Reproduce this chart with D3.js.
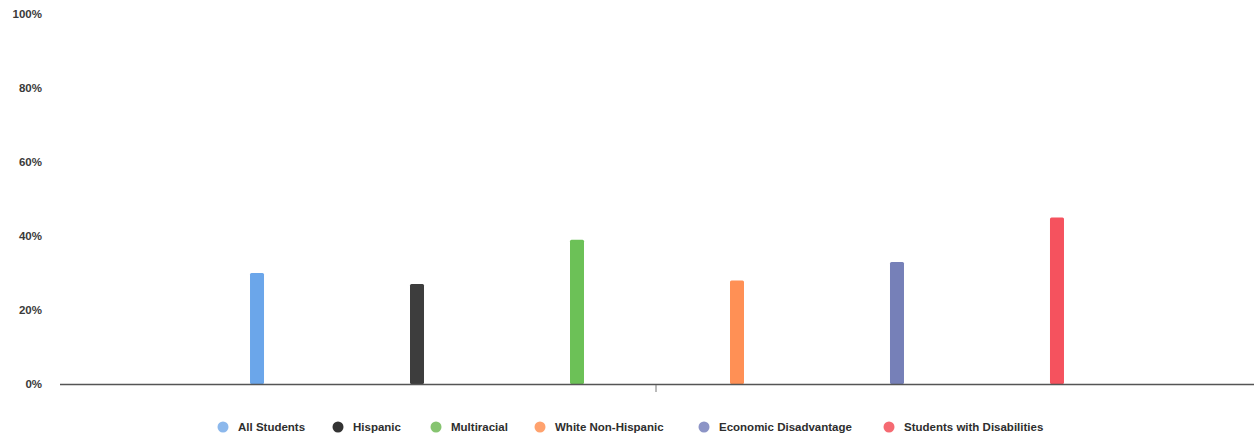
<!DOCTYPE html>
<html><head><meta charset="utf-8">
<script src="https://cdn.jsdelivr.net/npm/d3@7"></script>
<style>body{margin:0;background:#fff}svg{display:block}</style>
</head><body>
<svg id="c" width="1254" height="439"></svg>
<script>
const categories = [""];
const series = ["All Students","Hispanic","Multiracial","White  Non-Hispanic","Economic Disadvantage","Students with Disabilities"];
const values = [30, 27, 39, 28, 33, 45];
const colors = ["#6ba6ea","#3d3d3d","#6cc157","#ff9055","#7680b8","#f5525e"];
const legendColors = ["#8cb8ec","#333333","#86c470","#ffa26e","#8c94c6","#f56a72"];
const yTicks = [0,20,40,60,80,100];

const svg = d3.select("#c");
const plotLeft = 60, plotRight = 1254, plotTop = 14, plotBottom = 384;
const y = d3.scaleLinear().domain([0,100]).range([plotBottom, plotTop]);
const x0 = d3.scaleBand().domain(categories).range([plotLeft, plotRight]).paddingInner(0).paddingOuter(0.0398);
const x1 = d3.scaleBand().domain(series).range([0, x0.bandwidth()]).paddingInner(0.9125).paddingOuter(0.9125);

// y labels
svg.append("g").selectAll("text").data(yTicks).join("text")
  .attr("x", 42).attr("y", d => y(d)).attr("dy", "0.35em")
  .attr("text-anchor", "end")
  .attr("font-family", "Liberation Sans, Arial, sans-serif")
  .attr("font-size", 11.5).attr("font-weight", "bold").attr("fill", "#3a3a3a")
  .text(d => d + "%");

// bars
const g = svg.append("g").attr("transform", `translate(${x0(categories[0])},0)`);
g.selectAll("rect").data(series).join("rect")
  .attr("x", d => x1(d)).attr("width", x1.bandwidth())
  .attr("y", (d,i) => y(values[i])).attr("height", (d,i) => y(0) - y(values[i]))
  .attr("rx", 1.5)
  .attr("fill", (d,i) => colors[i]);

// baseline
svg.append("line").attr("x1", plotLeft).attr("x2", plotRight).attr("y1", y(0)+0.5).attr("y2", y(0)+0.5)
  .attr("stroke", "#555").attr("stroke-width", 1.3);
// category tick
const cx = x0(categories[0]) + x0.bandwidth()/2;
svg.append("line").attr("x1", cx-1).attr("x2", cx-1).attr("y1", y(0)+1).attr("y2", y(0)+8)
  .attr("stroke", "#777").attr("stroke-width", 1);

// legend
const legX = [223, 338, 436, 540, 704, 889];
const lg = svg.append("g").selectAll("g").data(series).join("g")
  .attr("transform", (d,i) => `translate(${legX[i]},427)`);
lg.append("circle").attr("r", 5.5).attr("fill", (d,i) => legendColors[i]);
lg.append("text").attr("x", 15).attr("dy", "0.35em")
  .attr("font-family", "Liberation Sans, Arial, sans-serif")
  .attr("font-size", 11.5).attr("font-weight", "bold").attr("fill", "#2e2e2e")
  .text(d => d);
</script>
</body></html>
